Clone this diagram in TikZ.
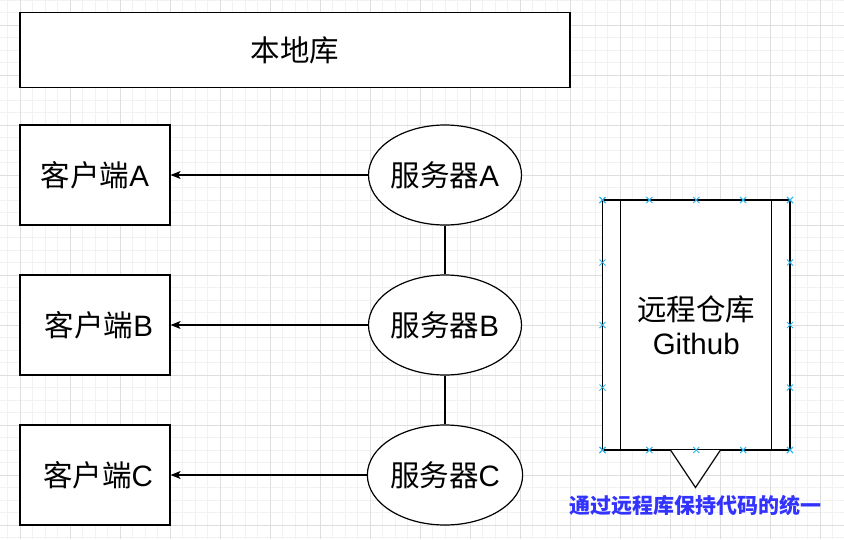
\documentclass[tikz,border=0pt]{standalone}
\usepackage{fontspec}
\setmainfont{Noto Sans CJK SC}
\newfontfamily\latn{Liberation Sans}
\usetikzlibrary{shapes.geometric,arrows.meta,calc}
\definecolor{gridminor}{RGB}{242,242,242}
\definecolor{gridmajor}{RGB}{222,222,222}
\definecolor{handle}{RGB}{41,182,242}
\definecolor{noteblue}{RGB}{51,51,255}
\tikzset{
  shapebox/.style={draw=black, line width=1.2pt, fill=white, rectangle, inner sep=0pt, font=\fontsize{29.5}{36}\selectfont},
  servnode/.style={draw=black, line width=1.2pt, fill=white, ellipse, inner sep=0pt, minimum width=150pt, minimum height=100pt, font=\fontsize{29.5}{36}\selectfont},
  link/.style={draw=black, line width=1.2pt},
  arr/.style={draw=black, line width=1.2pt, -{Stealth[length=10pt,width=8pt,inset=2.5pt]}},
  handlemark/.style={draw=handle, line width=1pt},
}
\begin{document}
\begin{tikzpicture}[x=1pt,y=-1pt]
\useasboundingbox (0,0) rectangle (844,539);
\fill[white] (0,0) rectangle (844,539);
% grid
\foreach \i in {0,...,68} {
  \draw[gridminor, line width=0.8pt] ({7.5+12.5*\i},0) -- ({7.5+12.5*\i},539);
}
\foreach \j in {0,...,43} {
  \draw[gridminor, line width=0.8pt] (0,{12.5*\j}) -- (844,{12.5*\j});
}
\foreach \i in {0,...,16} {
  \draw[gridmajor, line width=0.9pt] ({20+50*\i},0) -- ({20+50*\i},539);
}
\foreach \j in {0,...,10} {
  \draw[gridmajor, line width=0.9pt] (0,{25+50*\j}) -- (844,{25+50*\j});
}

% local repo
\node[shapebox, minimum width=550pt, minimum height=75pt] (local) at (295,50) {本地库};

% clients
\node[shapebox, minimum width=150pt, minimum height=100pt] (ca) at (95,175) {客户端{\latn A}};
\node[shapebox, minimum width=150pt, minimum height=100pt] (cb) at (95,325) {\hspace{8pt}客户端{\latn B}};
\node[shapebox, minimum width=150pt, minimum height=100pt] (cc) at (95,475) {\hspace{6pt}客户端{\latn C}};

% servers
\node[servnode] (sa) at (445,175) {服务器{\latn A}};
\node[servnode] (sb) at (445,325) {服务器{\latn B}};
\node[servnode] (sc) at (445,475) {服务器{\latn C}};

\draw[link] (sa) -- (sb);
\draw[link] (sb) -- (sc);
\draw[arr] (sa.west) -- (ca.east);
\draw[arr] (sb.west) -- (cb.east);
\draw[arr] (sc.west) -- (cc.east);

% remote repository (process shape)
\node[shapebox, minimum width=187.5pt, minimum height=250pt, align=center] (repo) at (696.25,325) {远程仓库\\[-2pt]{\latn Github}};
\draw[link] ($(repo.north west)+(18.75,0)$) -- ($(repo.south west)+(18.75,0)$);
\draw[link] ($(repo.north east)+(-18.75,0)$) -- ($(repo.south east)+(-18.75,0)$);

% triangle
\coordinate (tl) at (670.5,450);
\coordinate (tr) at (720.5,450);
\coordinate (tp) at (695.5,487.5);
\draw[draw=black, line width=1.2pt, fill=white, line join=miter] (tl) -- (tp) -- (tr);

% selection handles
\foreach \k in {0,...,4} {
  \foreach \px/\py in {{602.5+46.875*\k}/200, {602.5+46.875*\k}/450, 602.5/{200+62.5*\k}, 790/{200+62.5*\k}} {
    \draw[handlemark] ($(\px,\py)+(-3,-3)$) -- ($(\px,\py)+(3,3)$);
    \draw[handlemark] ($(\px,\py)+(-3,3)$) -- ($(\px,\py)+(3,-3)$);
  }
}

% note
\node[text=noteblue, font=\fontsize{21}{24}\selectfont\bfseries, inner sep=0pt] (note) at (695,505) {通过远程库保持代码的统一};
\end{tikzpicture}
\end{document}
